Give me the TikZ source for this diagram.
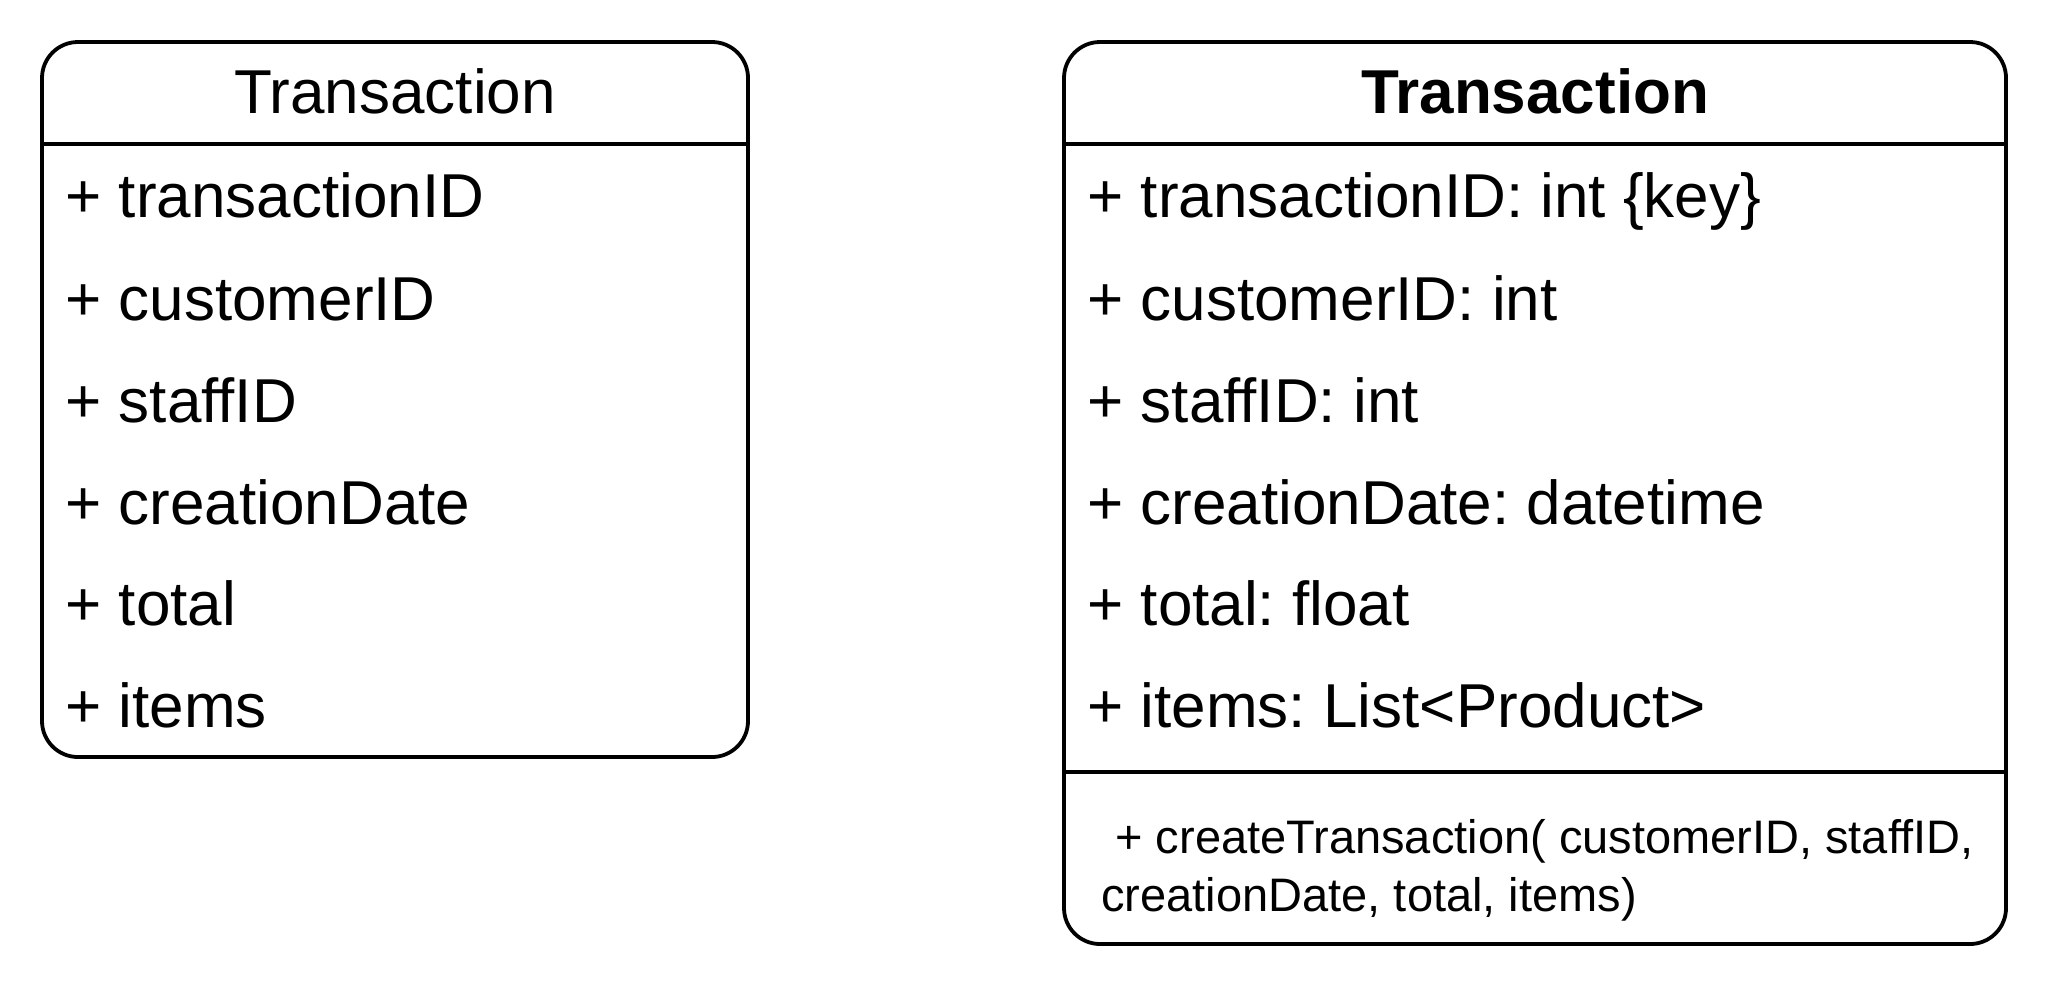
\documentclass[tikz,border=0pt]{standalone}
\usepackage{fontspec}
\setmainfont{Liberation Sans}
\frenchspacing
\begin{document}
\begin{tikzpicture}[x=0.5pt,y=-0.5pt,
  box/.style={draw=black,line width=1.9pt,rounded corners=18pt},
  sep/.style={draw=black,line width=1.9pt},
  row/.style={anchor=base west,inner sep=0pt,font=\fontsize{31}{37}\selectfont},
  title/.style={anchor=base,inner sep=0pt,font=\fontsize{31}{37}\selectfont},
  meth/.style={anchor=base west,inner sep=0pt,font=\fontsize{23.5}{29}\selectfont}]
\useasboundingbox (0,0) rectangle (2048,987);
% left class
\draw[box] (42,42) rectangle (748,757);
\coordinate (lh1) at (42,144); \coordinate (lh2) at (748,144);
\draw[sep] (lh1) -- (lh2);
\node[title] (lt) at (395,113) {Transaction};
\node[row] (l1) at (65,217) {+ transactionID};
\node[row] (l2) at (65,320) {+ customerID};
\node[row] (l3) at (65,422) {+ staffID};
\node[row] (l4) at (65,524) {+ creationDate};
\node[row] (l5) at (65,625) {+ total};
\node[row] (l6) at (65,727) {+ items};
% right class
\draw[box] (1064,42) rectangle (2006,944);
\coordinate (rh1) at (1064,144); \coordinate (rh2) at (2006,144);
\draw[sep] (rh1) -- (rh2);
\coordinate (rs1) at (1064,772); \coordinate (rs2) at (2006,772);
\draw[sep] (rs1) -- (rs2);
\node[title,font=\fontsize{31}{37}\selectfont\bfseries] (rt) at (1535,113) {Transaction};
\node[row] (r1) at (1087,217) {+ transactionID: int \{key\}};
\node[row] (r2) at (1087,320) {+ customerID: int};
\node[row] (r3) at (1087,422) {+ staffID: int};
\node[row] (r4) at (1087,524) {+ creationDate: datetime};
\node[row] (r5) at (1087,625) {+ total: float};
\node[row] (r6) at (1087,727) {+ items: List<Product>};
\node[meth] (m1) at (1115,853) {+ createTransaction( customerID, staffID,};
\node[meth] (m2) at (1101,911) {creationDate, total, items)};
\end{tikzpicture}
\end{document}
